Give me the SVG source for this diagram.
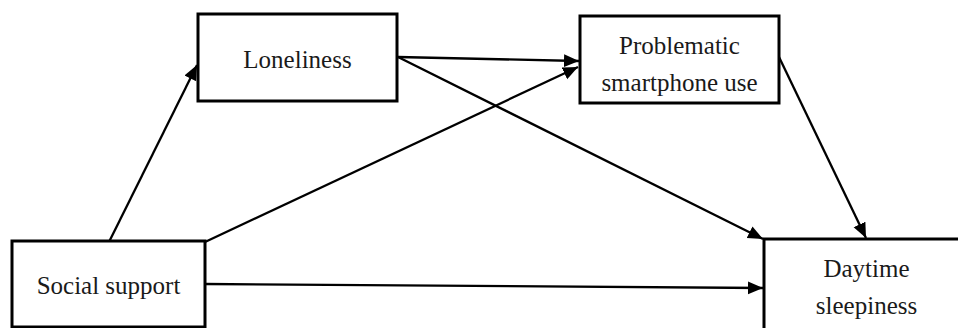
<svg xmlns="http://www.w3.org/2000/svg" width="958" height="328" viewBox="0 0 958 328">
<style>
.box{fill:#fff;stroke:#000;stroke-width:3}
.lbl{font-family:"Liberation Serif","Times New Roman",serif;font-size:25px;fill:#1a1a1a;text-anchor:middle}
.edge{stroke:#000;stroke-width:2.3;fill:none;marker-end:url(#ah)}
</style>
<defs>
<marker id="ah" markerUnits="userSpaceOnUse" markerWidth="16" markerHeight="14" refX="15" refY="6.5" orient="auto">
<path d="M0,0 L15,6.5 L0,13 Z" fill="#000"/>
</marker>
</defs>
<rect width="958" height="328" fill="#fff"/>
<g id="connectors">
<line class="edge" x1="109" y1="242" x2="197" y2="65"/>
<line class="edge" x1="398" y1="57" x2="579" y2="61"/>
<line class="edge" x1="398" y1="57" x2="763" y2="239"/>
<line class="edge" x1="205" y1="242" x2="578" y2="67"/>
<line class="edge" x1="779" y1="57" x2="866" y2="238"/>
<line class="edge" x1="205" y1="284" x2="763" y2="288"/>
</g>
<g id="loneliness">
<rect class="box" x="198" y="14" width="199" height="87"/>
<text class="lbl" x="297.5" y="67.5">Loneliness</text>
</g>
<g id="problematic">
<rect class="box" x="580" y="16" width="199" height="87"/>
<text class="lbl" x="679.5" y="54">Problematic</text>
<text class="lbl" x="679.5" y="90.5">smartphone use</text>
</g>
<g id="social">
<rect class="box" x="12" y="241" width="193" height="86"/>
<text class="lbl" x="108.5" y="294">Social support</text>
</g>
<g id="daytime">
<rect class="box" x="764" y="239" width="205" height="100"/>
<text class="lbl" x="866.5" y="276.5">Daytime</text>
<text class="lbl" x="866.5" y="314">sleepiness</text>
</g>
</svg>
